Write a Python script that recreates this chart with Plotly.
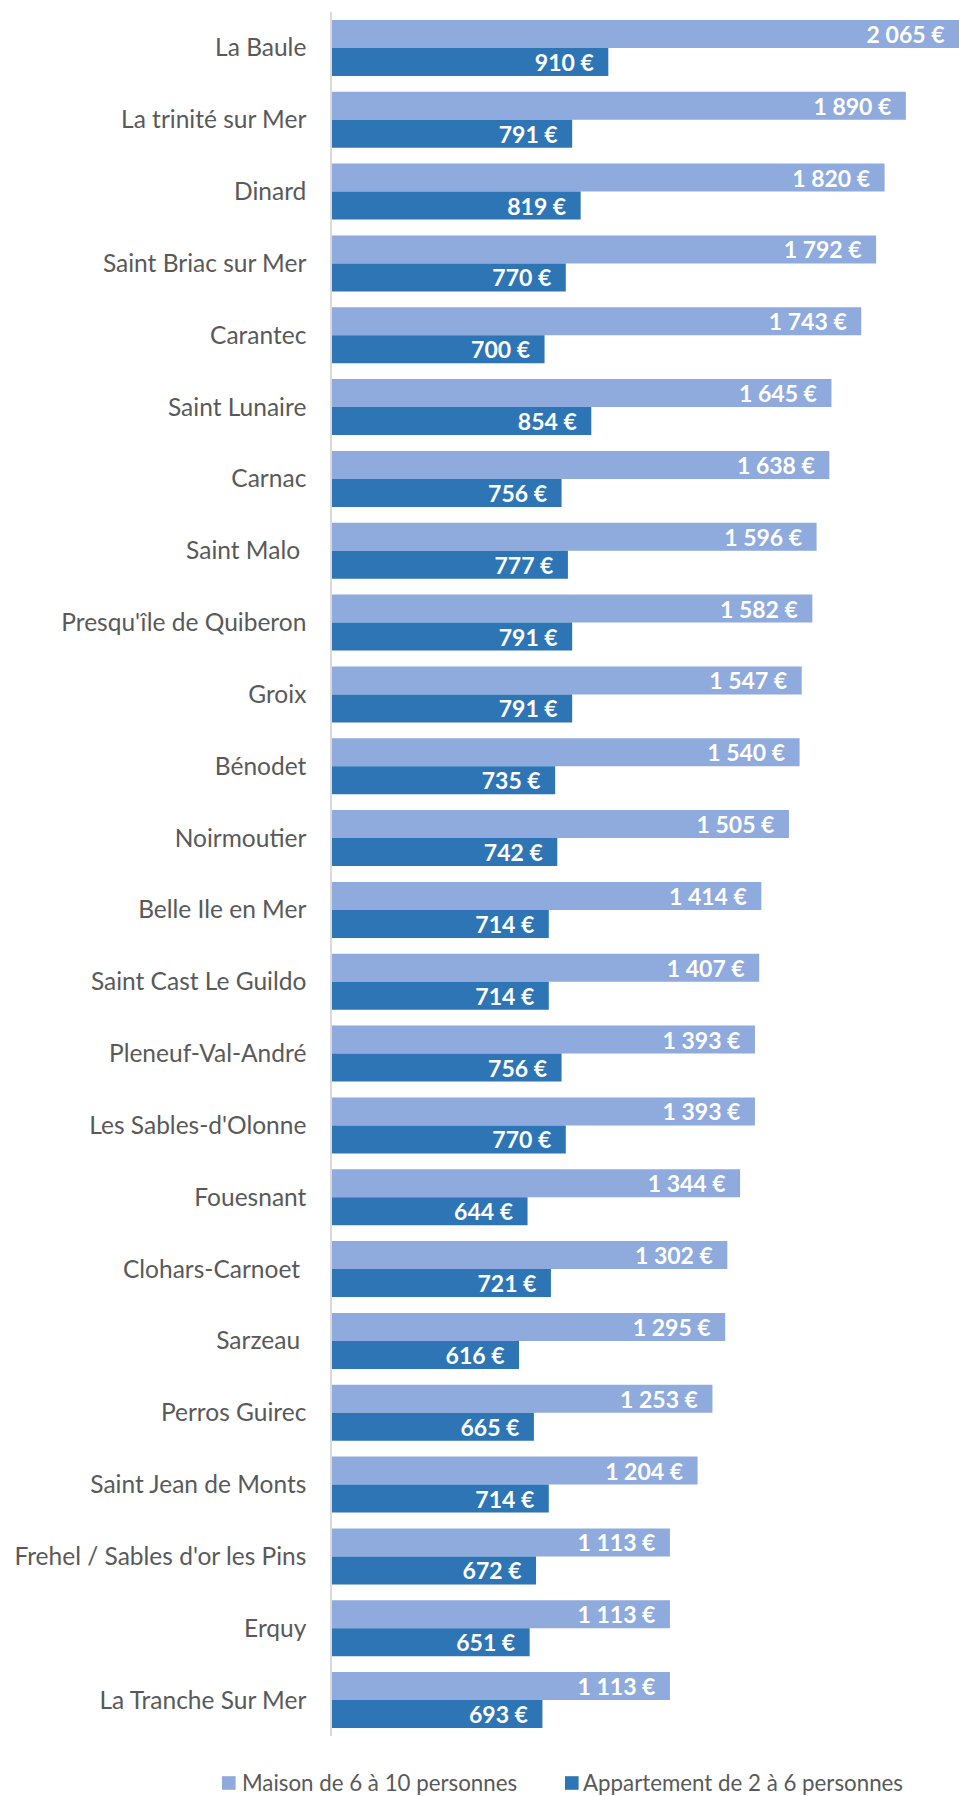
import plotly.graph_objects as go

categories = [
    "La Baule", "La trinité sur Mer", "Dinard", "Saint Briac sur Mer", "Carantec",
    "Saint Lunaire", "Carnac", "Saint Malo\u00a0", "Presqu'île de Quiberon", "Groix",
    "Bénodet", "Noirmoutier", "Belle Ile en Mer", "Saint Cast Le Guildo",
    "Pleneuf-Val-André", "Les Sables-d'Olonne", "Fouesnant", "Clohars-Carnoet\u00a0",
    "Sarzeau\u00a0", "Perros Guirec", "Saint Jean de Monts",
    "Frehel / Sables d'or les Pins", "Erquy", "La Tranche Sur Mer",
]
maison = [2065, 1890, 1820, 1792, 1743, 1645, 1638, 1596, 1582, 1547, 1540, 1505,
          1414, 1407, 1393, 1393, 1344, 1302, 1295, 1253, 1204, 1113, 1113, 1113]
appart = [910, 791, 819, 770, 700, 854, 756, 777, 791, 791, 735, 742,
          714, 714, 756, 770, 644, 721, 616, 665, 714, 672, 651, 693]
series_names = ["Maison de 6 à 10 personnes", "Appartement de 2 à 6 personnes"]
colors = ["#8FAADC", "#2E75B6"]


def fmt(v):
    return f"{v:,}".replace(",", " ") + " €\u2002"


fig = go.Figure()
for name, vals, col in zip(series_names, [maison, appart], colors):
    fig.add_trace(go.Bar(
        y=categories, x=vals, name=name, orientation="h",
        marker=dict(color=col, line=dict(width=0)),
        text=[fmt(v) for v in vals], textposition="inside", insidetextanchor="end",
        textfont=dict(family="Lato", size=23, color="white", weight="bold"),
        constraintext="none", cliponaxis=False, showlegend=False,
    ))

W, H = 959, 1796
L, T, B = 332, 11.5, 60
PW = W - L
PH = H - T - B


def px_x(px):
    return (px - L) / PW


def px_y(py):
    return (H - B - py) / PH


# legend drawn as squares + text (pixel positions converted to paper coords)
legend_y = 1783
sq = 6.8
square_x = [222, 565]
text_x = [240, 581]
for name, col, sx, tx in zip(series_names, colors, square_x, text_x):
    fig.add_shape(type="rect", xref="paper", yref="paper",
                  x0=px_x(sx), x1=px_x(sx + 2 * sq),
                  y0=px_y(legend_y - sq), y1=px_y(legend_y + sq),
                  fillcolor=col, line=dict(width=0))
    fig.add_annotation(text=name, xref="paper", yref="paper", x=px_x(tx), y=px_y(legend_y),
                       xanchor="left", yanchor="middle", showarrow=False,
                       font=dict(family="Lato", size=22.3, color="#595959"))

fig.update_layout(
    width=W, height=H,
    margin=dict(l=L, r=0, t=T, b=B, autoexpand=False),
    barmode="group", bargap=0.22, bargroupgap=0,
    plot_bgcolor="white", paper_bgcolor="white",
    font=dict(family="Lato", size=24, color="#595959"),
    showlegend=False,
    xaxis=dict(range=[0, 2065], visible=False, fixedrange=True),
    yaxis=dict(autorange="reversed", showline=True, linecolor="#D9D9D9", linewidth=1.5,
               showgrid=False, ticks="", ticklabelstandoff=19,
               tickfont=dict(size=24.5, color="#595959")),
)
fig.write_html("out.html", config={"displayModeBar": False},
               post_script="document.body.style.margin='0';document.body.style.overflow='hidden';")
